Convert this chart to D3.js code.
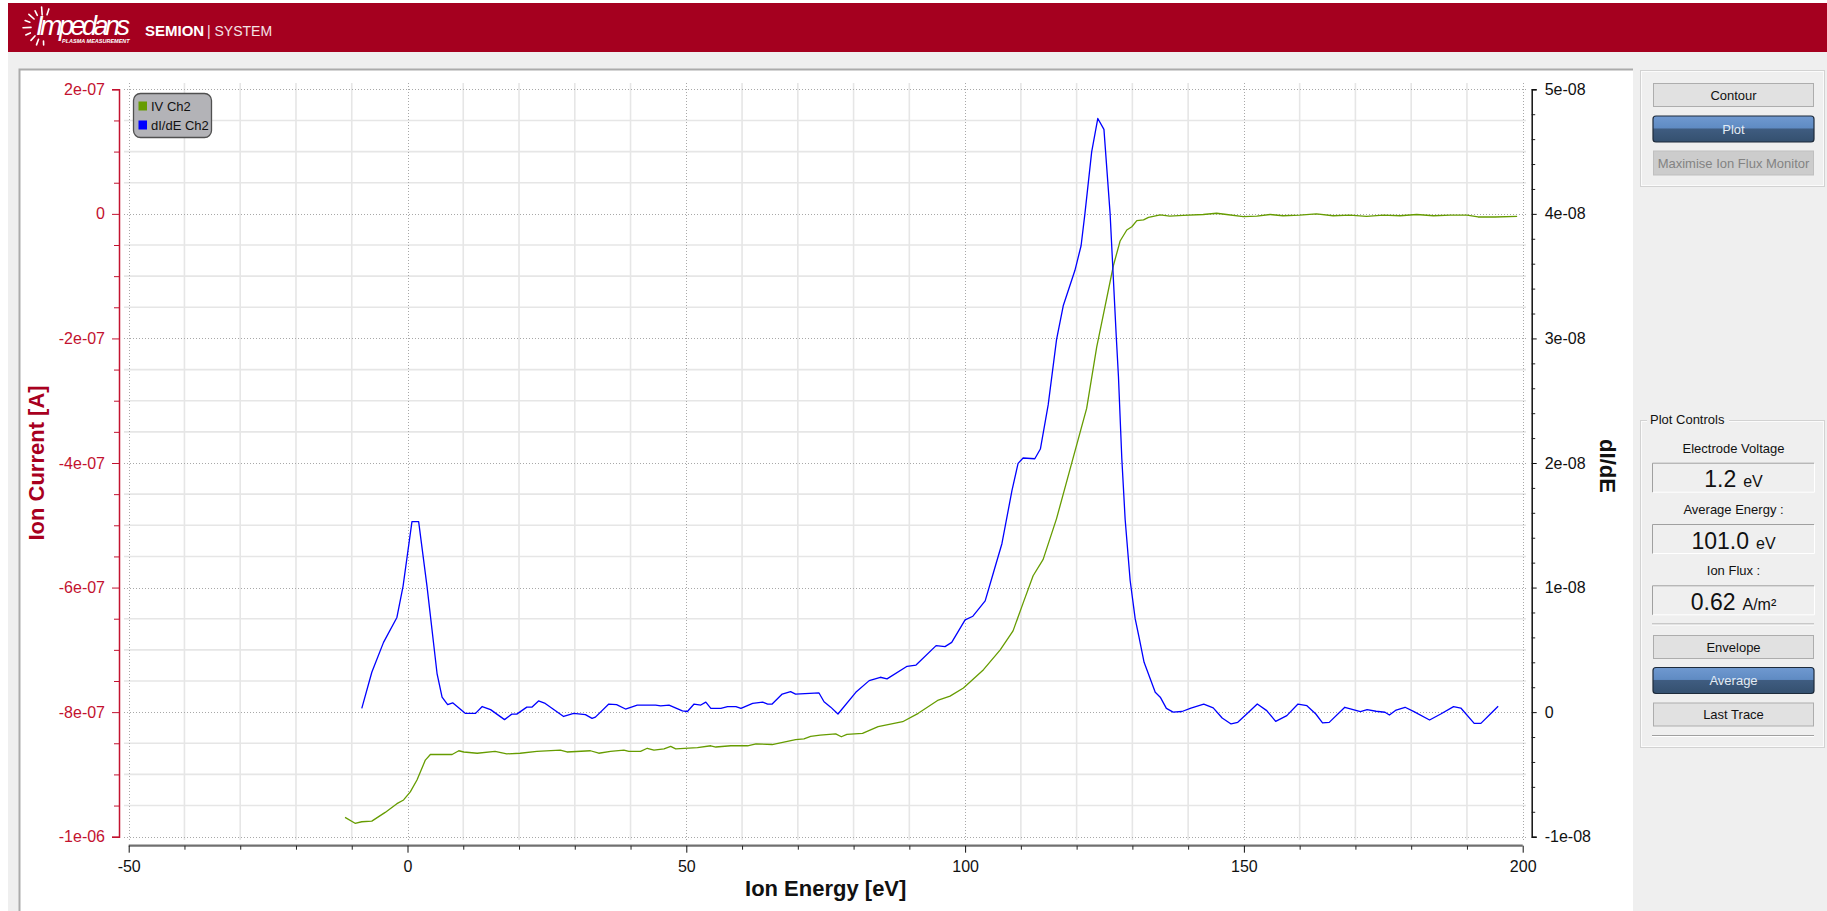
<!DOCTYPE html>
<html>
<head>
<meta charset="utf-8">
<title>SEMION | SYSTEM</title>
<script src="https://cdn.jsdelivr.net/npm/d3@7"></script>
<style>
  html, body { margin: 0; padding: 0; background: #ffffff; overflow: hidden; }
  svg { display: block; font-family: "Liberation Sans", Arial, sans-serif; }
</style>
</head>
<body>
<svg id="app" width="1827" height="911"></svg>
<script>
// ---- axis ticks ----
const energyTicks = [-50, 0, 50, 100, 150, 200];
const energyTickLabels = ["-50", "0", "50", "100", "150", "200"];
const currentTicks = [2e-7, 0, -2e-7, -4e-7, -6e-7, -8e-7, -1e-6];
const currentTickLabels = ["2e-07", "0", "-2e-07", "-4e-07", "-6e-07", "-8e-07", "-1e-06"];
const derivTicks = [5e-8, 4e-8, 3e-8, 2e-8, 1e-8, 0, -1e-8];
const derivTickLabels = ["5e-08", "4e-08", "3e-08", "2e-08", "1e-08", "0", "-1e-08"];

// ---- IV Ch2: ion energy [eV] vs ion current [x1e-07 A] ----
const ivEnergy = [-11.2, -9.4, -8.2, -6.4, -4.0, -1.9, -0.7, 0.5, 1.7, 3.2, 4.1, 8.0, 9.2, 10.1, 12.5, 15.7,
  17.8, 20.2, 23.2, 27.4, 28.6, 32.8, 34.3, 36.4, 38.8, 39.7, 41.8, 43.0, 44.2, 46.0, 47.2, 48.1, 52.0,
  54.4, 55.3, 58.0, 61.0, 62.5, 65.4, 69.6, 71.1, 72.3, 74.0, 76.8, 77.8, 78.8, 81.6, 84.4, 88.8, 91.6,
  95.2, 97.3, 99.7, 103.3, 106.3, 108.6, 110.4, 112.2, 114.0, 116.4, 118.8, 120.6, 121.8, 123.6, 125.1,
  126.6, 127.8, 129.0, 129.9, 130.8, 132.0, 132.9, 135.0, 136.7, 139.1, 142.7, 145.1, 146.9, 149.9, 152.3,
  154.7, 157, 160, 163, 166, 169, 172, 175, 178, 181, 184, 187, 190, 192, 195, 199];
const ivCurrent = [-9.69, -9.785, -9.76, -9.75, -9.61, -9.47, -9.41, -9.28, -9.09, -8.77, -8.68, -8.68, -8.62,
  -8.64, -8.66, -8.63, -8.67, -8.66, -8.63, -8.61, -8.64, -8.62, -8.66, -8.63, -8.61, -8.63, -8.63, -8.58,
  -8.61, -8.59, -8.55, -8.59, -8.57, -8.54, -8.56, -8.54, -8.54, -8.51, -8.52, -8.44, -8.43, -8.39, -8.37,
  -8.35, -8.395, -8.357, -8.34, -8.234, -8.154, -8.019, -7.806, -7.743, -7.613, -7.318, -7.0, -6.695, -6.25,
  -5.81, -5.548, -4.893, -4.106, -3.517, -3.124, -2.14, -1.484, -0.829, -0.436, -0.259, -0.207, -0.108,
  -0.096, -0.056, -0.017, -0.036, -0.023, -0.010, 0.01, -0.01, -0.043, -0.036, -0.01, -0.03, -0.02, 0.0,
  -0.03, -0.02, -0.04, -0.02, -0.03, -0.01, -0.03, -0.02, -0.02, -0.05, -0.05, -0.04];

// ---- dI/dE Ch2: ion energy [eV] vs derivative [x1e-08] ----
const didEEnergy = [-8.2, -6.4, -4.3, -1.9, -0.8, 0.8, 2.0, 3.5, 5.3, 6.2, 7.2, 8.1, 10.4, 12.2, 13.4, 14.9,
  17.4, 18.7, 19.6, 21.4, 22.3, 23.5, 24.7, 28.0, 29.8, 31.9, 33.1, 33.7, 36.1, 37.5, 39.1, 41.2, 44.5,
  45.4, 46.9, 49.3, 50.2, 51.4, 52.6, 53.5, 54.4, 56.2, 57.4, 58.9, 59.8, 61.9, 63.7, 64.6, 65.4, 67.2,
  68.7, 69.6, 73.8, 74.7, 75.9, 77.2, 80.4, 82.8, 84.8, 86.0, 89.6, 91.2, 94.8, 96.4, 97.6, 100.0, 101.4,
  103.6, 105.1, 106.6, 108.4, 109.5, 110.4, 112.5, 113.5, 114.9, 116.4, 117.6, 119.7, 120.8, 121.5, 122.7,
  123.8, 124.9, 126.0, 127.1, 127.5, 128.1, 128.7, 129.6, 130.5, 131.2, 132.1, 134.1, 135.0, 136.1, 137.3,
  138.9, 140.5, 142.8, 144.5, 146.1, 147.7, 148.9, 150.5, 152.4, 154.1, 155.7, 157.7, 159.7, 161.3, 162.9,
  164.1, 165.3, 168.1, 170.9, 172.1, 173.7, 175.3, 176.1, 177.3, 178.9, 180.5, 183.3, 185.3, 187.6, 188.9,
  191.3, 192.5, 194.2, 195.6];
const didEValue = [0.03, 0.32, 0.56, 0.76, 1.01, 1.53, 1.53, 1.01, 0.31, 0.12, 0.06, 0.075, -0.01, -0.01,
  0.045, 0.02, -0.06, -0.016, -0.016, 0.04, 0.04, 0.09, 0.07, -0.035, -0.01, -0.02, -0.05, -0.04, 0.065,
  0.06, 0.025, 0.057, 0.057, 0.05, 0.057, 0.01, 0.005, 0.065, 0.057, 0.08, 0.03, 0.03, 0.045, 0.045, 0.03,
  0.07, 0.08, 0.065, 0.065, 0.145, 0.164, 0.145, 0.154, 0.083, 0.04, -0.015, 0.159, 0.253, 0.28, 0.267,
  0.368, 0.378, 0.534, 0.526, 0.56, 0.74, 0.77, 0.893, 1.123, 1.352, 1.778, 1.997, 2.04, 2.034, 2.112,
  2.466, 2.99, 3.262, 3.547, 3.744, 4.006, 4.498, 4.766, 4.678, 4.006, 3.023, 2.696, 2.04, 1.549, 1.057,
  0.75, 0.6, 0.40, 0.16, 0.12, 0.03, 0.0, 0.005, 0.033, 0.064, 0.034, -0.047, -0.095, -0.082, -0.015,
  0.066, 0.012, -0.074, -0.028, 0.065, 0.052, -0.015, -0.087, -0.082, 0.039, 0.004, 0.02, 0.007, -0.001,
  -0.023, 0.017, 0.039, 0.004, -0.063, -0.015, 0.044, 0.033, -0.09, -0.09, -0.015, 0.047];

// ---- legend and readouts ----
const seriesNames = ["IV Ch2", "dI/dE Ch2"];
const seriesColors = ["#669c00", "#0000ff"];
const readoutLabels = ["Electrode Voltage", "Average Energy :", "Ion Flux :"];
const readoutValues = ["1.2", "101.0", "0.62"];
const readoutUnits = ["eV", "eV", "A/m²"];

const W = 1827, H = 911;
const svg = d3.select("#app");

// ---------- window chrome ----------
svg.append("rect").attr("width", W).attr("height", H).attr("fill", "#efefef");
svg.append("rect").attr("width", 8).attr("height", H).attr("fill", "#ffffff");
svg.append("rect").attr("width", W).attr("height", 3).attr("fill", "#ffffff");

const header = svg.append("g");
header.append("rect").attr("x", 8).attr("y", 3).attr("width", W - 8).attr("height", 49).attr("fill", "#a5001f");

// sunburst mark
const logoRays = [[72, 13, 19], [94, 12, 20], [116, 13, 18], [138, 12, 19], [160, 14, 19], [182, 12, 20],
  [205, 14, 19], [228, 12, 18], [250, 13, 19], [272, 14, 18]];
header.append("g").selectAll("line").data(logoRays).join("line")
  .attr("x1", d => 43 + d[1] * Math.cos(d[0] * Math.PI / 180))
  .attr("y1", d => 27 - d[1] * Math.sin(d[0] * Math.PI / 180))
  .attr("x2", d => 43 + d[2] * Math.cos(d[0] * Math.PI / 180))
  .attr("y2", d => 27 - d[2] * Math.sin(d[0] * Math.PI / 180))
  .attr("stroke", "#ffffff").attr("stroke-width", 1.6).attr("stroke-linecap", "round");

header.append("text").attr("x", 36).attr("y", 35).attr("fill", "#ffffff")
  .attr("font-size", 27).attr("font-style", "italic").attr("textLength", 94).text("Impedans");
header.append("text").attr("x", 62).attr("y", 43).attr("fill", "#ffffff")
  .attr("font-size", 5.5).attr("font-style", "italic").attr("font-weight", "bold").text("PLASMA MEASUREMENT");
header.append("text").attr("x", 145).attr("y", 36).attr("fill", "#ffffff")
  .attr("font-size", 15).attr("font-weight", "bold").text("SEMION");
header.append("text").attr("x", 207).attr("y", 36).attr("fill", "#f4e3e6")
  .attr("font-size", 14).text("| SYSTEM");

// plot panel
svg.append("rect").attr("x", 19).attr("y", 69).attr("width", 1614).attr("height", H - 69).attr("fill", "#ffffff");
svg.append("path").attr("d", "M19.5,911V69.5H1633").attr("fill", "none")
  .attr("stroke", "#ababab").attr("stroke-width", 2);

// ---------- scales ----------
const x = d3.scaleLinear().domain([-50, 200]).range([128.7, 1522.7]);
const yI = d3.scaleLinear().domain([-1e-6, 2e-7]).range([836.7, 89.3]);
const yD = d3.scaleLinear().domain([-1e-8, 5e-8]).range([836.7, 89.3]);

// ---------- grid ----------
const grid = svg.append("g");
const gridE = d3.range(-50, 201, 10);
const gridI = d3.range(-20, 5).map(k => k * 0.5e-7);
const isMajorE = e => e % 50 === 0;
const isMajorI = v => Math.abs(Math.round(v / 2e-7) * 2e-7 - v) < 1e-12;

grid.selectAll("line.gv").data(gridE.filter(e => !isMajorE(e))).join("line").attr("class", "gv")
  .attr("x1", d => x(d)).attr("x2", d => x(d)).attr("y1", 83).attr("y2", 840)
  .attr("stroke", "#e6e6e6").attr("stroke-width", 1.6);
grid.selectAll("line.gh").data(gridI.filter(v => !isMajorI(v))).join("line").attr("class", "gh")
  .attr("y1", d => yI(d)).attr("y2", d => yI(d)).attr("x1", 124).attr("x2", 1526)
  .attr("stroke", "#e6e6e6").attr("stroke-width", 1.6);
grid.selectAll("line.gvm").data(gridE.filter(isMajorE)).join("line").attr("class", "gvm")
  .attr("x1", d => Math.round(x(d)) + 0.5).attr("x2", d => Math.round(x(d)) + 0.5).attr("y1", 83).attr("y2", 840)
  .attr("stroke", "#a8a8a8").attr("stroke-width", 1).attr("stroke-dasharray", "1,2");
grid.selectAll("line.ghm").data(gridI.filter(isMajorI)).join("line").attr("class", "ghm")
  .attr("y1", d => Math.round(yI(d)) + 0.5).attr("y2", d => Math.round(yI(d)) + 0.5).attr("x1", 124).attr("x2", 1526)
  .attr("stroke", "#a8a8a8").attr("stroke-width", 1).attr("stroke-dasharray", "1,2");

// ---------- curves ----------
const ivLine = d3.line().x((d, i) => x(ivEnergy[i])).y((d, i) => yI(ivCurrent[i] * 1e-7));
const dLine = d3.line().x((d, i) => x(didEEnergy[i])).y((d, i) => yD(didEValue[i] * 1e-8));
svg.append("path").attr("d", ivLine(ivCurrent)).attr("fill", "none")
  .attr("stroke", seriesColors[0]).attr("stroke-width", 1.3).attr("stroke-linejoin", "round");
svg.append("path").attr("d", dLine(didEValue)).attr("fill", "none")
  .attr("stroke", seriesColors[1]).attr("stroke-width", 1.3).attr("stroke-linejoin", "round");

// ---------- axes ----------
const red = "#c3122f";
function styleAxis(g, color, size) {
  g.attr("font-family", "\"Liberation Sans\", Arial, sans-serif").attr("font-size", size);
  g.selectAll("path.domain").attr("stroke", color);
  g.selectAll(".tick line").attr("stroke", color);
  g.selectAll(".tick text").attr("fill", color);
}

// left: ion current
const gLm = svg.append("g").attr("transform", "translate(119,0)")
  .call(d3.axisLeft(yI).tickValues(gridI.filter(v => !isMajorI(v))).tickSize(5).tickFormat(""));
gLm.select(".domain").remove();
gLm.selectAll(".tick line").attr("stroke", red);
const gL = svg.append("g").attr("transform", "translate(119,0)")
  .call(d3.axisLeft(yI).tickValues(currentTicks).tickFormat((d, i) => currentTickLabels[i])
    .tickSize(7).tickPadding(7));
styleAxis(gL, red, 16);
gL.select(".domain").attr("stroke-width", 1.5);

// right: dI/dE
const minorD = d3.range(-5, 26).map(k => k * 0.2e-8).filter(v => Math.abs(Math.round(v / 1e-8) * 1e-8 - v) > 1e-14);
const gRm = svg.append("g").attr("transform", "translate(1531.7,0)")
  .call(d3.axisRight(yD).tickValues(minorD).tickSize(3.5).tickFormat(""));
gRm.select(".domain").remove();
gRm.selectAll(".tick line").attr("stroke", "#222");
const gR = svg.append("g").attr("transform", "translate(1531.7,0)")
  .call(d3.axisRight(yD).tickValues(derivTicks).tickFormat((d, i) => derivTickLabels[i])
    .tickSize(5).tickPadding(8));
styleAxis(gR, "#111", 16);
gR.select(".domain").attr("stroke-width", 1.5);

// bottom: ion energy
svg.append("line").attr("x1", x(-50)).attr("x2", x(200)).attr("y1", 845.7).attr("y2", 845.7)
  .attr("stroke", "#707070").attr("stroke-width", 2.2);
const gBm = svg.append("g").attr("transform", "translate(0,845.7)")
  .call(d3.axisBottom(x).tickValues(gridE.filter(e => !isMajorE(e))).tickSize(4).tickFormat(""));
gBm.select(".domain").remove();
gBm.selectAll(".tick line").attr("stroke", "#222");
const gB = svg.append("g").attr("transform", "translate(0,845.7)")
  .call(d3.axisBottom(x).tickValues(energyTicks).tickFormat((d, i) => energyTickLabels[i])
    .tickSize(7).tickPadding(8));
gB.select(".domain").remove();
styleAxis(gB, "#111", 16);

// axis titles
svg.append("text").attr("x", x(75)).attr("y", 896).attr("text-anchor", "middle")
  .attr("font-size", 22).attr("font-weight", "bold").attr("fill", "#111").text("Ion Energy [eV]");
svg.append("text").attr("transform", "translate(36,463) rotate(-90)").attr("text-anchor", "middle")
  .attr("dy", "0.35em").attr("font-size", 22).attr("font-weight", "bold").attr("fill", "#a8001e")
  .text("Ion Current [A]");
svg.append("text").attr("transform", "translate(1608,466) rotate(90)").attr("text-anchor", "middle")
  .attr("dy", "0.35em").attr("font-size", 22).attr("font-weight", "bold").attr("fill", "#111")
  .text("dI/dE");

// ---------- legend ----------
const legend = svg.append("g");
legend.append("rect").attr("x", 133.5).attr("y", 93.5).attr("width", 78).attr("height", 44).attr("rx", 7)
  .attr("fill", "#b3b3b7").attr("stroke", "#505050").attr("stroke-width", 1.3);
const li = legend.selectAll("g.item").data(seriesNames).join("g").attr("class", "item")
  .attr("transform", (d, i) => `translate(138.5,${101.5 + i * 19})`);
li.append("rect").attr("width", 8.5).attr("height", 9).attr("fill", (d, i) => seriesColors[i]);
li.append("text").attr("x", 12.5).attr("y", 4.5).attr("dy", "0.35em").attr("font-size", 13)
  .attr("fill", "#111").text(d => d);

// ---------- side controls ----------
const defs = svg.append("defs");
const grad = defs.append("linearGradient").attr("id", "btnBlue").attr("x1", 0).attr("y1", 0).attr("x2", 0).attr("y2", 1);
grad.append("stop").attr("offset", "0").attr("stop-color", "#7099d0");
grad.append("stop").attr("offset", "0.46").attr("stop-color", "#5f8bc3");
grad.append("stop").attr("offset", "0.5").attr("stop-color", "#3f5c80");
grad.append("stop").attr("offset", "1").attr("stop-color", "#34506f");

const side = svg.append("g").attr("font-size", 13);

function button(y, h, label, state) {
  const g = side.append("g");
  if (state === "active") {
    g.append("rect").attr("x", 1653).attr("y", y).attr("width", 161).attr("height", h).attr("rx", 3)
      .attr("fill", "url(#btnBlue)").attr("stroke", "#1e2b3b").attr("stroke-width", 1.2);
  } else {
    g.append("rect").attr("x", 1653.5).attr("y", y + 0.5).attr("width", 160).attr("height", h - 1)
      .attr("fill", state === "disabled" ? "#cccccc" : "#e1e1e1")
      .attr("stroke", state === "disabled" ? "#bfbfbf" : "#adadad");
  }
  g.append("text").attr("x", 1733.5).attr("y", y + h / 2).attr("dy", "0.35em").attr("text-anchor", "middle")
    .attr("fill", state === "active" ? "#e3ebf4" : state === "disabled" ? "#838383" : "#111").text(label);
}

function groupBox(y, h) {
  side.append("rect").attr("x", 1640.5).attr("y", y + 0.5).attr("width", 184).attr("height", h)
    .attr("fill", "none").attr("stroke", "#d2d2d2");
  side.append("rect").attr("x", 1641.5).attr("y", y + 1.5).attr("width", 182).attr("height", h - 2)
    .attr("fill", "none").attr("stroke", "#fbfbfb");
}

function separator(y) {
  side.append("line").attr("x1", 1652).attr("x2", 1814).attr("y1", y + 0.5).attr("y2", y + 0.5).attr("stroke", "#a0a0a0");
  side.append("line").attr("x1", 1652).attr("x2", 1814).attr("y1", y + 1.5).attr("y2", y + 1.5).attr("stroke", "#ffffff");
}

function readout(i, y) {
  side.append("text").attr("x", 1733.5).attr("y", y - 14.5).attr("dy", "0.35em").attr("text-anchor", "middle")
    .attr("fill", "#111").text(readoutLabels[i]);
  side.append("path").attr("d", `M1652.5,${y + 29.5}V${y + 0.5}H1814`).attr("fill", "none").attr("stroke", "#a0a0a0");
  side.append("path").attr("d", `M1653,${y + 29.5}H1814.5V${y + 1}`).attr("fill", "none").attr("stroke", "#ffffff");
  const t = side.append("text").attr("x", 1733.5).attr("y", y + 24.5).attr("text-anchor", "middle").attr("fill", "#111");
  t.append("tspan").attr("font-size", 23).text(readoutValues[i]);
  t.append("tspan").attr("font-size", 16).attr("dx", 7).text(readoutUnits[i]);
}

groupBox(70, 116);
button(83, 24, "Contour", "normal");
button(116, 26, "Plot", "active");
button(150.5, 25, "Maximise Ion Flux Monitor", "disabled");

groupBox(420, 327);
side.append("rect").attr("x", 1647).attr("y", 412).attr("width", 82).attr("height", 14).attr("fill", "#efefef");
side.append("text").attr("x", 1650).attr("y", 419).attr("dy", "0.35em").attr("fill", "#111").text("Plot Controls");

readout(0, 462.7);
readout(1, 524);
readout(2, 585.3);
separator(623.5);
button(635, 24, "Envelope", "normal");
button(667.5, 26, "Average", "active");
button(702.5, 24, "Last Trace", "normal");
separator(735);
</script>
</body>
</html>
